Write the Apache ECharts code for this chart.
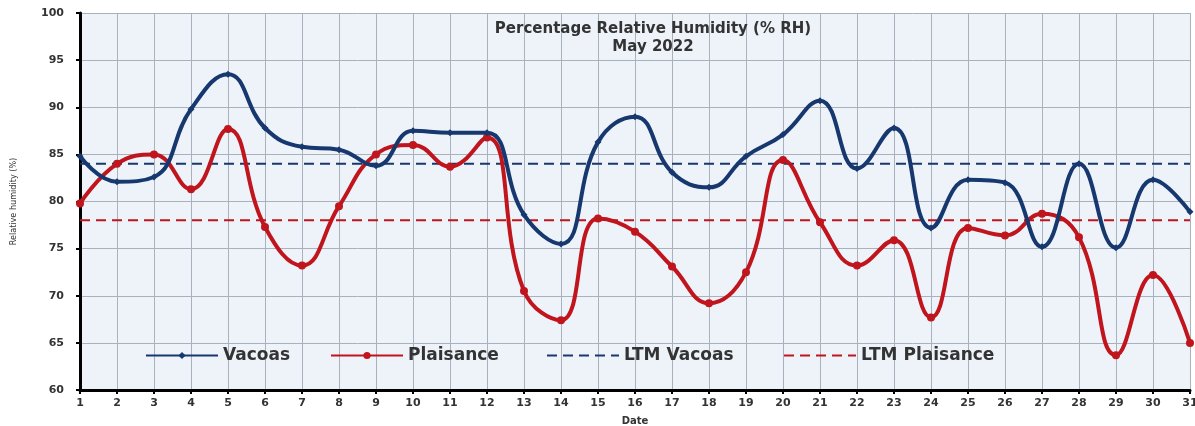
<!DOCTYPE html>
<html>
<head>
<meta charset="utf-8">
<script src="https://cdn.jsdelivr.net/npm/echarts@6/dist/echarts.min.js"></script>
<style>
  html, body { margin: 0; padding: 0; background: #fff; }
  #chart { width: 1195px; height: 426px; }
</style>
</head>
<body>
<div id="chart"></div>
<script>
// dates of May 2022
var days = [];
for (var d = 1; d <= 31; d++) days.push(String(d));

// relative humidity (%)
var vacoas = [84.8, 82.1, 82.6, 89.8, 93.5, 87.8, 85.8, 85.5, 83.8, 87.5,
              87.3, 87.3, 78.6, 75.5, 86.3, 89.0, 83.1, 81.5, 84.8, 87.1,
              90.7, 83.5, 87.8, 77.2, 82.3, 82.0, 75.2, 84.0, 75.1, 82.3, 78.9];
var plaisance = [79.8, 84.0, 85.0, 81.3, 87.7, 77.3, 73.2, 79.5, 85.0, 86.0,
                 83.7, 86.8, 70.5, 67.4, 78.2, 76.8, 73.1, 69.2, 72.5, 84.4,
                 77.8, 73.2, 75.9, 67.7, 77.2, 76.4, 78.7, 76.2, 63.7, 72.2, 65.0];
var ltmVacoas = 84;
var ltmPlaisance = 78;

var navy = '#17386e';
var red = '#c0151d';

var legendText = {
    fontFamily: 'DejaVu Sans',
    fontWeight: 'bold',
    fontSize: 17,
    color: '#333'
};

// one legend per entry so each sits where it is in the picture
function legendAt(name, left, dashed) {
    var item = { name: name };
    if (dashed) item.itemStyle = { opacity: 0 };
    return {
        left: left,
        top: 342,
        itemWidth: 72,
        itemHeight: 9,
        textStyle: legendText,
        data: [item]
    };
}

var chart = echarts.init(document.getElementById('chart'));

chart.setOption({
    animation: false,
    title: {
        text: 'Percentage Relative Humidity (% RH)\nMay 2022',
        left: 648,
        textAlign: 'center',
        top: 15,
        textStyle: {
            fontFamily: 'DejaVu Sans',
            fontWeight: 'bold',
            fontSize: 15,
            lineHeight: 18,
            color: '#333'
        }
    },
    legend: [
        legendAt('Vacoas', 140, false),
        legendAt('Plaisance', 325, false),
        legendAt('LTM Vacoas', 541, true),
        legendAt('LTM Plaisance', 778, true)
    ],
    grid: {
        left: 80,
        right: 5,
        top: 13,
        bottom: 36,
        containLabel: false,
        outerBoundsMode: 'none',
        show: true,
        backgroundColor: '#eef3fa',
        borderWidth: 0
    },
    xAxis: {
        type: 'category',
        data: days,
        boundaryGap: false,
        name: 'Date',
        nameLocation: 'middle',
        nameGap: 26,
        nameTextStyle: {
            fontFamily: 'DejaVu Sans',
            fontWeight: 'bold',
            fontSize: 10,
            color: '#333'
        },
        axisLine: { lineStyle: { color: '#000', width: 3 } },
        axisTick: { show: true, length: 4, lineStyle: { color: '#000', width: 2 }, alignWithLabel: true },
        axisLabel: {
            fontFamily: 'DejaVu Sans',
            fontWeight: 'bold',
            fontSize: 11,
            color: '#333',
            margin: 8,
            interval: 0
        },
        splitLine: { show: true, lineStyle: { color: '#a9b1bc', width: 1 } }
    },
    yAxis: {
        type: 'value',
        min: 60,
        max: 100,
        interval: 5,
        name: 'Relative humidity (%)',
        nameLocation: 'middle',
        nameGap: 62,
        nameTextStyle: {
            fontFamily: 'DejaVu Sans Condensed',
            fontSize: 9,
            color: '#333'
        },
        axisLine: { show: true, lineStyle: { color: '#000', width: 3 } },
        axisTick: { show: true, length: 4, lineStyle: { color: '#000', width: 2 } },
        axisLabel: {
            fontFamily: 'DejaVu Sans',
            fontWeight: 'bold',
            fontSize: 11,
            color: '#333',
            margin: 16
        },
        splitLine: { show: true, lineStyle: { color: '#a9b1bc', width: 1 } }
    },
    series: [
        {
            name: 'Vacoas',
            type: 'line',
            data: vacoas,
            smooth: 0.45,
            symbol: 'diamond',
            symbolSize: 7,
            itemStyle: { color: navy },
            lineStyle: { color: navy, width: 4 },
            z: 4
        },
        {
            name: 'Plaisance',
            type: 'line',
            data: plaisance,
            smooth: 0.45,
            symbol: 'circle',
            symbolSize: 8,
            itemStyle: { color: red },
            lineStyle: { color: red, width: 4 },
            z: 3
        },
        {
            name: 'LTM Vacoas',
            type: 'line',
            data: days.map(function () { return ltmVacoas; }),
            symbol: 'none',
            itemStyle: { color: navy },
            lineStyle: { color: navy, width: 2, type: [10, 6] },
            z: 2
        },
        {
            name: 'LTM Plaisance',
            type: 'line',
            data: days.map(function () { return ltmPlaisance; }),
            symbol: 'none',
            itemStyle: { color: red },
            lineStyle: { color: red, width: 2, type: [10, 6] },
            z: 2
        }
    ]
});
</script>
</body>
</html>
